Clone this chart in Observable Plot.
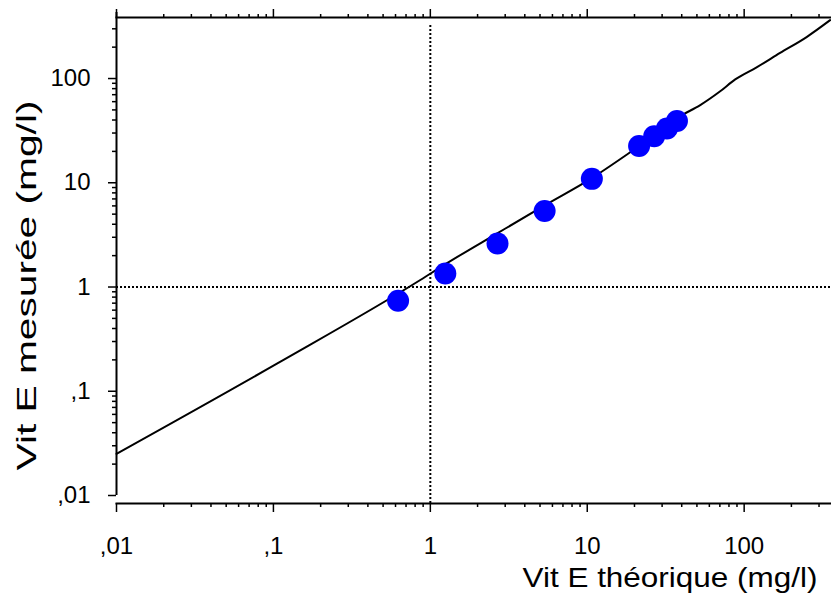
<!DOCTYPE html>
<html>
<head>
<meta charset="utf-8">
<script src="https://cdn.jsdelivr.net/npm/d3@7"></script>
<script src="https://cdn.jsdelivr.net/npm/@observablehq/plot@0.6"></script>
<style>
  html, body { margin: 0; padding: 0; background: #fff; }
  svg { display: block; }
</style>
</head>
<body>
<div id="chart"></div>
<script>
// Measured points (blue dots)
const theoretical = [0.623, 1.246, 2.68, 5.35, 10.7, 21.4, 26.7, 32.2, 37.3];
const measured    = [0.739, 1.35, 2.62, 5.35, 10.9, 22.5, 28.0, 33.2, 39.1];

// Fitted curve
const fitX = [0.01, 0.106, 0.863, 1.247, 2.685, 5.35, 10.7, 18.3, 39.1, 52.5, 70.0, 87.7, 120, 169.4, 250, 353];
const fitY = [0.0251, 0.185, 1.167, 1.656, 3.29, 6.07, 11.1, 19.1, 43.6, 55.6, 75.0, 98.0, 128, 176, 250, 363];

// Axes
const xDomain = [0.01, 355];
const yDomain = [0.01, 385];
const majorTicks = [0.01, 0.1, 1, 10, 100];
const majorLabels = [",01", ",1", "1", "10", "100"];
const minorX = [0.02,0.03,0.04,0.05,0.06,0.07,0.08,0.09,0.2,0.3,0.4,0.5,0.6,0.7,0.8,0.9,2,3,4,5,6,7,8,9,20,30,40,50,60,70,80,90,200,300];
const minorY = [0.02,0.03,0.04,0.05,0.06,0.07,0.08,0.09,0.2,0.3,0.4,0.5,0.6,0.7,0.8,0.9,2,3,4,5,6,7,8,9,20,30,40,50,60,70,80,90,200,300];
const xTitle = "Vit E théorique (mg/l)";
const yTitle = "Vit E mesurée (mg/l)";

const fmt = d => majorLabels[majorTicks.indexOf(d)];
const points = theoretical.map((x, i) => ({x, y: measured[i]}));
const fit = fitX.map((x, i) => ({x, y: fitY[i]}));

const chart = Plot.plot({
  width: 831,
  height: 602,
  marginLeft: 116,
  marginRight: 1,
  marginTop: 17,
  marginBottom: 99,
  style: {fontFamily: "'Liberation Sans', Arial, sans-serif", background: "#fff", color: "#000", overflow: "visible"},
  x: {type: "log", domain: xDomain, range: [116, 830]},
  y: {type: "log", domain: yDomain, range: [495, 17]},
  marks: [
    // reference dotted lines
    Plot.ruleX([1], {stroke: "#000", strokeWidth: 2, strokeDasharray: "2,2", insetTop: 8}),
    Plot.ruleY([1], {stroke: "#000", strokeWidth: 2, strokeDasharray: "2,2"}),
    // frame lines
    Plot.frame({anchor: "bottom", stroke: "#000", strokeWidth: 2}),
    Plot.frame({anchor: "top", stroke: "#000", strokeWidth: 2}),
    Plot.ruleX([xDomain[0]], {y1: yDomain[0], y2: 430, stroke: "#000", strokeWidth: 2}),
    // bottom axis
    Plot.axisX(minorX, {anchor: "bottom", tickSize: 4, strokeWidth: 1.5, tickFormat: () => "", label: null}),
    Plot.axisX(majorTicks, {anchor: "bottom", tickSize: 9, strokeWidth: 1.5, tickPadding: 24, tickFormat: fmt, fontSize: 24, label: null}),
    // top axis (ticks only)
    Plot.axisX(minorX, {anchor: "top", tickSize: 4, strokeWidth: 1.5, tickFormat: () => "", label: null}),
    Plot.axisX(majorTicks, {anchor: "top", tickSize: 9, strokeWidth: 1.5, tickFormat: () => "", label: null}),
    // left axis
    Plot.axisY(minorY, {anchor: "left", tickSize: 4, strokeWidth: 1.5, tickFormat: () => "", label: null}),
    Plot.axisY(majorTicks, {anchor: "left", tickSize: 8, strokeWidth: 1.5, tickPadding: 18, tickFormat: fmt, fontSize: 24, label: null}),
    // fitted line
    Plot.line(fit, {x: "x", y: "y", stroke: "#000", strokeWidth: 2, curve: "monotone-x"}),
    // data points
    Plot.dot(points, {x: "x", y: "y", r: 11, fill: "#0000ff", stroke: "none"}),
    // titles
    Plot.text([xTitle], {frameAnchor: "bottom-right", dx: -13, dy: 83, textAnchor: "end", fontSize: 28, fill: "#000"}),
    Plot.text([yTitle], {frameAnchor: "left", rotate: -90, dx: -89, dy: 25, textAnchor: "middle", fontSize: 28, fill: "#000"})
  ]
});
document.getElementById("chart").appendChild(chart);

// stretch titles to the reference's text length
d3.select(chart).selectAll("text").each(function() {
  const t = this.textContent;
  if (t === xTitle) d3.select(this).attr("textLength", 295).attr("lengthAdjust", "spacingAndGlyphs");
  if (t === yTitle) d3.select(this).attr("textLength", 370).attr("lengthAdjust", "spacingAndGlyphs");
});
</script>
</body>
</html>
